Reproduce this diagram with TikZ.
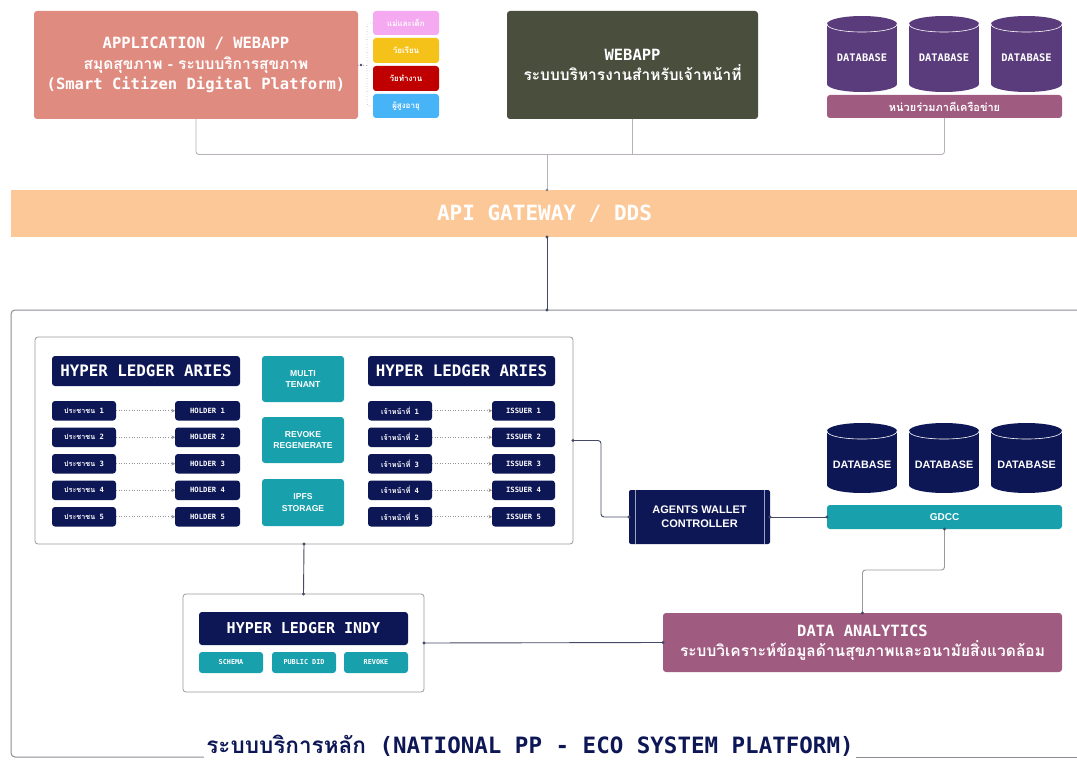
\documentclass[tikz,border=0pt]{standalone}
\usepackage{fontspec}
\setmainfont{Liberation Sans}
\setsansfont{Liberation Sans}
\setmonofont{DejaVu Sans Mono}
\newfontfamily\thaifont[Script=Thai]{Loma}
\usetikzlibrary{arrows.meta}
\newcommand\tha[1]{{\thaifont\bfseries #1}}
\newcommand\fs[1]{\fontsize{#1}{\dimexpr #1pt*13/10\relax}\selectfont}
\definecolor{salmon}{HTML}{E08B80}
\definecolor{tpink}{HTML}{F5A9F0}
\definecolor{tyellow}{HTML}{F5C21A}
\definecolor{tred}{HTML}{C00000}
\definecolor{tblue}{HTML}{47B4F8}
\definecolor{olive}{HTML}{4A4E3D}
\definecolor{dbpurple}{HTML}{5A3B7B}
\definecolor{mauve}{HTML}{A05B80}
\definecolor{peach}{HTML}{FCC897}
\definecolor{navy}{HTML}{0E1755}
\definecolor{teal}{HTML}{18A0AD}
\definecolor{topline}{HTML}{B9B1B9}
\definecolor{lowline}{HTML}{444A66}
\definecolor{framec}{HTML}{8C8C96}
\definecolor{panelc}{HTML}{9A9A9A}
\newcommand\bx[7]{\node[#2, minimum width={(#5)-(#3)}, minimum height={(#6)-(#4)}] (#1) at ({((#3)+(#5))/2},{((#4)+(#6))/2}) {#7};}
\newcommand\cyl[6]{%
  \fill[#2] (#3,{#4+8}) rectangle (#5,{#6-8});
  \fill[#2] ({(#3+#5)/2},{#4+8}) ellipse [x radius={(#5-#3)/2}, y radius=8];
  \fill[#2] ({(#3+#5)/2},{#6-8}) ellipse [x radius={(#5-#3)/2}, y radius=8];
  \draw[white, line width=0.6pt] (#3,{#4+8}) .. controls (#3,{#4+18.7}) and (#5,{#4+18.7}) .. (#5,{#4+8});
}
\tikzset{
  base/.style={inner sep=0pt, outer sep=0pt, align=center, text=white, rounded corners=3pt},
  mono/.style={font=\ttfamily\bfseries\fs{#1}},
  sans/.style={font=\sffamily\bfseries\fs{#1}},
  tag/.style={base, fill=#1, font=\fs{8}},
  rowbox/.style={base, fill=navy, mono=7.2},
  tealbox/.style={base, fill=teal, sans=8.6},
  panel/.style={draw=panelc, line width=0.8pt, fill=white, rounded corners=3pt, inner sep=0pt, outer sep=0pt},
  topln/.style={draw=topline, line width=0.9pt, rounded corners=3pt},
  lowln/.style={draw=lowline, line width=0.9pt, rounded corners=3pt},
  dotarrow/.style={draw=gray!85, line width=0.6pt, dotted, -{Stealth[length=3.5pt,width=3.5pt]}},
  enddot/.style={fill=lowline},
}
\begin{document}
\begin{tikzpicture}[x=1pt,y=-1pt]
\useasboundingbox (0,0) rectangle (1077,765);
\fill[white] (0,0) rectangle (1077,765);

% ---------- top row ----------
\bx{app}{base, fill=salmon, mono=15.5}{34}{11}{358}{119}{APPLICATION / WEBAPP\\\tha{สมุดสุขภาพ - ระบบบริการสุขภาพ}\\(Smart Citizen Digital Platform)}
\bx{tag1}{tag=tpink}{373}{11}{439}{35}{\tha{แม่และเด็ก}}
\bx{tag2}{tag=tyellow}{373}{38}{439}{63}{\tha{วัยเรียน}}
\bx{tag3}{tag=tred}{373}{66}{439}{91}{\tha{วัยทำงาน}}
\bx{tag4}{tag=tblue}{373}{94}{439}{118}{\tha{ผู้สูงอายุ}}
\draw[gray!60, line width=0.6pt, dotted, rounded corners=3pt] (tag1.west) -- ++(-6,0) |- (tag4.west);
\draw[gray!60, line width=0.6pt, dotted] (app.east) -- ++(8,0);
\fill[lowline] (app.east) ++(3,0) circle (1.3);

\bx{webapp}{base, fill=olive, mono=15.5}{507}{11}{758}{119}{WEBAPP\\\tha{ระบบบริหารงานสำหรับเจ้าหน้าที่}}

\cyl{db1}{dbpurple}{827}{16}{897}{92}
\cyl{db2}{dbpurple}{909}{16}{979}{92}
\cyl{db3}{dbpurple}{991}{16}{1062}{92}
\node[text=white, mono=10.4] (db1l) at (862,58) {DATABASE};
\node[text=white, mono=10.4] (db2l) at (944,58) {DATABASE};
\node[text=white, mono=10.4] (db3l) at (1026.5,58) {DATABASE};
\bx{partner}{base, fill=mauve, font=\fs{11}}{827}{95}{1062}{118}{\tha{หน่วยร่วมภาคีเครือข่าย}}

\draw[topln] (app.south) -- ++(0,35.5) -| (partner.south);
\draw[topln] (webapp.south) -- ++(0,35.5);
\coordinate (j1) at (547,154.5);

% ---------- API gateway ----------
\bx{api}{inner sep=0pt, outer sep=0pt, fill=peach, text=white, mono=21}{11}{190}{1078}{237}{API GATEWAY / DDS}
\draw[topln] (j1) -- (j1 |- api.north);
\fill[lowline!70] (j1 |- api.north) circle (1.4);

% ---------- main frame ----------
\coordinate (ftop) at (547,310);
\draw[framec, line width=1pt, rounded corners=4pt] (205,757) -- (11,757) -- (11,310) -- (1082,310);
\draw[framec, line width=1pt] (855,757) -- (1082,757);
\node[fill=white, text=navy, mono=22.5, inner sep=2pt] (title) at (530,746) {\tha{ระบบบริการหลัก} (NATIONAL PP - ECO SYSTEM PLATFORM)};
\draw[lowln] (api.south -| ftop) -- (ftop);
\fill[enddot] (api.south -| ftop) circle (1.6);
\fill[enddot] (ftop) circle (1.6);

% ---------- Aries panel ----------
\bx{aries}{panel}{35}{337}{573}{544}{}
\bx{ariesL}{base, fill=navy, mono=15.8}{52}{356}{240}{386}{HYPER LEDGER ARIES}
\bx{ariesR}{base, fill=navy, mono=15.8}{368}{356}{555}{386}{HYPER LEDGER ARIES}
\bx{multi}{tealbox}{262}{356}{344}{402}{MULTI\\TENANT}
\bx{revoke}{tealbox}{262}{417}{344}{463}{REVOKE\\REGENERATE}
\bx{ipfs}{tealbox}{262}{479}{344}{526}{IPFS\\STORAGE}
\foreach \i in {1,...,5}{
  \pgfmathsetmacro\ya{401+(\i-1)*26.5}
  \pgfmathsetmacro\yb{\ya+19.5}
  \bx{c\i}{rowbox}{52}{\ya}{116}{\yb}{\tha{ประชาชน} \i}
  \bx{h\i}{rowbox}{175}{\ya}{240}{\yb}{HOLDER \i}
  \draw[dotarrow] (c\i) -- (h\i);
  \bx{o\i}{rowbox}{368}{\ya}{432}{\yb}{\tha{เจ้าหน้าที่} \i}
  \bx{s\i}{rowbox}{492}{\ya}{555}{\yb}{ISSUER \i}
  \draw[dotarrow] (o\i) -- (s\i);
}

% ---------- wallet / GDCC ----------
\bx{wallet}{base, rounded corners=2pt, fill=navy, sans=11}{629}{490}{770}{544}{AGENTS WALLET\\CONTROLLER}
\draw[white!60!navy, line width=0.5pt] (635,490) -- (635,544) (764,490) -- (764,544);
\cyl{db4}{navy}{827}{423}{897}{493}
\cyl{db5}{navy}{909}{423}{979}{493}
\cyl{db6}{navy}{991}{423}{1062}{493}
\node[text=white, sans=10.8] (db4l) at (862,465) {DATABASE};
\node[text=white, sans=10.8] (db5l) at (944,465) {DATABASE};
\node[text=white, sans=10.8] (db6l) at (1026.5,465) {DATABASE};
\bx{gdcc}{base, fill=teal, sans=10}{827}{505}{1062}{529}{GDCC}

% ---------- Indy ----------
\bx{indy}{panel}{183}{594}{424}{692}{}
\bx{indyH}{base, fill=navy, mono=15}{199}{612}{408}{645}{HYPER LEDGER INDY}
\bx{schema}{base, fill=teal, mono=6.8}{199}{652}{263}{673}{SCHEMA}
\bx{pdid}{base, fill=teal, mono=6.8}{272}{652}{336}{673}{PUBLIC DID}
\bx{irev}{base, fill=teal, mono=6.8}{344}{652}{408}{673}{REVOKE}

% ---------- Data analytics ----------
\bx{da}{base, fill=mauve, mono=15.5}{663}{613}{1062}{672}{DATA ANALYTICS\\\tha{ระบบวิเคราะห์ข้อมูลด้านสุขภาพและอนามัยสิ่งแวดล้อม}}

% ---------- lower connectors ----------
\draw[lowln] (aries.east) -- ++(28,0) |- (wallet.west);
\draw[lowln] (wallet.east) -- (gdcc.west);
\draw[lowln, draw=gray!80] (gdcc.south) -- ++(0,41) -| (da.north);
\draw[lowln] (aries.south) -- (indy.north);
\draw[lowln] (indy.east) -- (da.west);
\foreach \p in {aries.east, wallet.west, wallet.east, gdcc.west, gdcc.south, da.north, aries.south, indy.north, indy.east, da.west}
  \fill[enddot] (\p) circle (1.6);
\end{tikzpicture}
\end{document}
